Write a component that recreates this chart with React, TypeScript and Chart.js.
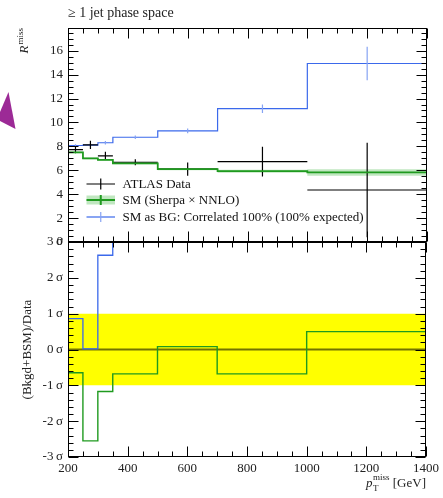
import React, { useEffect, useRef } from 'react';
import { Chart, registerables } from 'chart.js';

Chart.register(...registerables);

const FONT = "'Liberation Serif', 'DejaVu Serif', serif";
Chart.defaults.font.family = FONT;
Chart.defaults.color = '#222';

// ---- data ----
const binEdges = [200, 250, 300, 350, 500, 700, 1000, 1400];
const dataVals = [7.72, 8.12, 7.2, 6.67, 6.1, 6.72, 4.35];
const dataErrs = [0.3, 0.35, 0.35, 0.25, 0.55, 1.25, 3.95];
const smVals = [7.5, 7.0, 6.87, 6.58, 6.1, 5.92, 5.82];
const smErrs = [0.07, 0.07, 0.07, 0.07, 0.09, 0.12, 0.27];
const bgVals = [8.07, 8.1, 8.3, 8.76, 9.3, 11.15, 14.93];
const bgErrs = [0.1, 0.15, 0.15, 0.15, 0.2, 0.35, 1.4];
const smPull = [-0.65, -2.55, -1.17, -0.68, 0.08, -0.68, 0.5];
const bgPull = [0.86, 0.02, 2.63, 3.5, 3.5, 3.5, 3.5]; // bins above 350 GeV are off scale (> 3 sigma)

const xTickVals = [200, 400, 600, 800, 1000, 1200, 1400];
const topYTickVals = [0, 2, 4, 6, 8, 10, 12, 14, 16];
const pullTickVals = [-3, -2, -1, 0, 1, 2, 3];

const legendLabels = ['ATLAS Data', 'SM (Sherpa \u00d7 NNLO)', 'SM as BG: Correlated 100% (100% expected)'];
const titleText = '\u2265 1 jet phase space';

const BLUE = '#3b69eb';
const BLUE_LIGHT = '#86a3f3';
const GREEN = '#1f9a1f';
const GREEN_BAND = 'rgba(60,180,60,0.32)';

// ---- helpers building library data from arrays ----
const stepPoints = (vals: number[]) =>
  binEdges.map((e, i) => ({ x: e, y: vals[Math.min(i, vals.length - 1)] }));

const hBars = (vals: number[]) => {
  const pts: any[] = [];
  vals.forEach((v, i) => {
    pts.push({ x: binEdges[i], y: v }, { x: binEdges[i + 1], y: v }, { x: binEdges[i + 1], y: null });
  });
  return pts;
};

const vBars = (vals: number[], errs: number[]) => {
  const pts: any[] = [];
  vals.forEach((v, i) => {
    const mid = (binEdges[i] + binEdges[i + 1]) / 2;
    pts.push({ x: mid, y: Math.max(v - errs[i], 0) }, { x: mid, y: v + errs[i] }, { x: mid, y: null });
  });
  return pts;
};

const line = (data: any[], color: string, width: number, order: number, extra: any = {}) => ({
  data,
  borderColor: color,
  borderWidth: width,
  pointRadius: 0,
  fill: false,
  order,
  ...extra,
});

function drawFrameTicks(chart: any, xMinorStep: number, yMajorStep: number, yMinorStep: number) {
  const { ctx, chartArea: a, scales } = chart;
  const xs = scales.x;
  const ys = scales.y;
  const L = Math.round(a.left) + 0.5;
  const R = Math.round(a.right) - 0.5;
  const T = Math.round(a.top) + 0.5;
  const B = Math.round(a.bottom) - 0.5;
  ctx.save();
  ctx.strokeStyle = '#000';
  ctx.lineWidth = 1;
  ctx.beginPath();
  const nx = Math.round((xs.max - xs.min) / xMinorStep);
  for (let i = 0; i <= nx; i++) {
    const v = xs.min + i * xMinorStep;
    const major = Math.abs(v % 200) < 1e-6;
    const len = major ? 10 : 5;
    const px = Math.round(xs.getPixelForValue(v)) + 0.5;
    ctx.moveTo(px, T); ctx.lineTo(px, T + len);
    ctx.moveTo(px, B); ctx.lineTo(px, B - len);
  }
  const ny = Math.floor((ys.max - ys.min) / yMinorStep + 1e-6);
  for (let i = 0; i <= ny; i++) {
    const v = ys.min + i * yMinorStep;
    const r = (v - ys.min) / yMajorStep;
    const major = Math.abs(r - Math.round(r)) < 1e-6;
    const len = major ? 10 : 5;
    const py = Math.round(ys.getPixelForValue(v)) + 0.5;
    ctx.moveTo(L, py); ctx.lineTo(L + len, py);
    ctx.moveTo(R, py); ctx.lineTo(R - len, py);
  }
  ctx.stroke();
  ctx.strokeRect(L, T, R - L, B - T);
  ctx.restore();
}

const topDecor = {
  id: 'topDecor',
  afterDraw(chart: any) {
    const { ctx, chartArea: a } = chart;
    drawFrameTicks(chart, 50, 2, 0.5);
    ctx.save();
    // purple marker shape at the left edge
    ctx.fillStyle = '#9c2a96';
    ctx.beginPath();
    ctx.moveTo(8.5, 92);
    ctx.lineTo(15.5, 129);
    ctx.lineTo(0, 121);
    ctx.lineTo(0, 112);
    ctx.closePath();
    ctx.fill();
    // title
    ctx.fillStyle = '#222';
    ctx.font = `14px ${FONT}`;
    ctx.textAlign = 'left';
    ctx.textBaseline = 'middle';
    ctx.fillText(titleText, a.left, 13);
    // y title R^miss (rotated)
    ctx.save();
    ctx.translate(28, a.top);
    ctx.rotate(-Math.PI / 2);
    ctx.textBaseline = 'alphabetic';
    ctx.font = `italic 13px ${FONT}`;
    const wR = ctx.measureText('R').width;
    ctx.font = `9px ${FONT}`;
    const wM = ctx.measureText('miss').width;
    const start = -(wR + wM + 1);
    ctx.font = `italic 13px ${FONT}`;
    ctx.fillText('R', start, 0);
    ctx.font = `9px ${FONT}`;
    ctx.fillText('miss', start + wR + 1, -5);
    ctx.restore();
    // legend
    const lx0 = a.left + 18.5;
    const lx1 = a.left + 47;
    const lmid = (lx0 + lx1) / 2;
    const ys = [a.top + 156, a.top + 172, a.top + 189];
    ctx.strokeStyle = '#000';
    ctx.lineWidth = 1.2;
    ctx.beginPath();
    ctx.moveTo(lx0, ys[0]); ctx.lineTo(lx1, ys[0]);
    ctx.moveTo(lmid, ys[0] - 5.5); ctx.lineTo(lmid, ys[0] + 5.5);
    ctx.stroke();
    ctx.fillStyle = GREEN_BAND;
    ctx.fillRect(lx0, ys[1] - 4.5, lx1 - lx0, 9);
    ctx.strokeStyle = GREEN;
    ctx.lineWidth = 2;
    ctx.beginPath();
    ctx.moveTo(lx0, ys[1]); ctx.lineTo(lx1, ys[1]);
    ctx.moveTo(lmid, ys[1] - 5); ctx.lineTo(lmid, ys[1] + 5);
    ctx.stroke();
    ctx.strokeStyle = BLUE;
    ctx.lineWidth = 1.2;
    ctx.beginPath();
    ctx.moveTo(lx0, ys[2]); ctx.lineTo(lx1, ys[2]);
    ctx.stroke();
    ctx.strokeStyle = BLUE_LIGHT;
    ctx.beginPath();
    ctx.moveTo(lmid, ys[2] - 5); ctx.lineTo(lmid, ys[2] + 5);
    ctx.stroke();
    ctx.fillStyle = '#111';
    ctx.font = `13px ${FONT}`;
    ctx.textAlign = 'left';
    ctx.textBaseline = 'middle';
    legendLabels.forEach((t, i) => ctx.fillText(t, a.left + 54.5, ys[i] + 0.5));
    ctx.restore();
  },
};

const bottomDecor = {
  id: 'bottomDecor',
  afterDraw(chart: any) {
    const { ctx, chartArea: a } = chart;
    drawFrameTicks(chart, 50, 1, 0.2);
    ctx.save();
    ctx.fillStyle = '#222';
    ctx.save();
    ctx.translate(31, (a.top + a.bottom) / 2);
    ctx.rotate(-Math.PI / 2);
    ctx.font = `13px ${FONT}`;
    ctx.textAlign = 'center';
    ctx.textBaseline = 'alphabetic';
    ctx.fillText('(Bkgd+BSM)/Data', 0, 0);
    ctx.restore();
    const base = 487;
    ctx.textBaseline = 'alphabetic';
    ctx.textAlign = 'left';
    ctx.font = `13px ${FONT}`;
    const wUnit = ctx.measureText(' [GeV]').width;
    ctx.font = `9px ${FONT}`;
    const wMiss = ctx.measureText('miss').width;
    ctx.font = `italic 13px ${FONT}`;
    const wP = ctx.measureText('p').width;
    let x = a.right - wUnit - wMiss - wP - 0.5;
    ctx.fillText('p', x, base);
    x += wP + 0.5;
    ctx.font = `9px ${FONT}`;
    ctx.fillText('miss', x, base - 7.5);
    ctx.fillText('T', x, base + 4);
    x += wMiss;
    ctx.font = `13px ${FONT}`;
    ctx.fillText(' [GeV]', x, base);
    ctx.restore();
  },
};

export default function App() {
  const topRef = useRef<HTMLCanvasElement>(null);
  const botRef = useRef<HTMLCanvasElement>(null);

  useEffect(() => {
    const top = new Chart(topRef.current!, {
      type: 'line',
      data: {
        datasets: [
          line(stepPoints(smVals.map((v, i) => v + smErrs[i])), 'rgba(0,0,0,0)', 0, 6, { stepped: 'before' }),
          line(stepPoints(smVals.map((v, i) => v - smErrs[i])), 'rgba(0,0,0,0)', 0, 5, {
            stepped: 'before', fill: '-1', backgroundColor: GREEN_BAND,
          }),
          line(stepPoints(bgVals), BLUE, 1.2, 4, { stepped: 'before' }),
          line(vBars(bgVals, bgErrs), BLUE_LIGHT, 1.2, 3),
          line(hBars(dataVals), '#000', 1.2, 2),
          line(vBars(dataVals, dataErrs), '#000', 1.2, 2),
          line(stepPoints(smVals), GREEN, 1.8, 0, { stepped: 'before' }),
        ],
      },
      options: {
        animation: false,
        responsive: false,
        events: [],
        layout: { padding: { top: 28, bottom: 256, right: 16, left: 0 } },
        plugins: { legend: { display: false }, tooltip: { enabled: false } },
        scales: {
          x: { type: 'linear', min: 200, max: 1400, display: false },
          y: {
            type: 'linear',
            min: 0,
            max: 17.9,
            grid: { display: false, drawTicks: false },
            border: { display: false },
            afterFit: (s: any) => { s.width = 68; },
            afterBuildTicks: (s: any) => { s.ticks = topYTickVals.map((v) => ({ value: v })); },
            ticks: { padding: 5, color: '#222', font: { size: 13 }, callback: (v: any) => String(v) },
          },
        },
      },
      plugins: [topDecor],
    } as any);

    const bot = new Chart(botRef.current!, {
      type: 'line',
      data: {
        datasets: [
          line([{ x: 200, y: 1 }, { x: 1400, y: 1 }], 'rgba(0,0,0,0)', 0, 6),
          line([{ x: 200, y: -1 }, { x: 1400, y: -1 }], 'rgba(0,0,0,0)', 0, 5, { fill: '-1', backgroundColor: '#ffff00' }),
          line([{ x: 200, y: 0 }, { x: 1400, y: 0 }], 'rgba(0,0,0,0.55)', 2, 4),
          line(stepPoints(bgPull), BLUE, 1.3, 2, { stepped: 'before' }),
          line(stepPoints(smPull), GREEN, 1.4, 1, { stepped: 'before' }),
        ],
      },
      options: {
        animation: false,
        responsive: false,
        events: [],
        layout: { padding: { top: 242, bottom: 0, right: 16, left: 0 } },
        plugins: { legend: { display: false }, tooltip: { enabled: false } },
        scales: {
          x: {
            type: 'linear',
            min: 200,
            max: 1400,
            grid: { display: false, drawTicks: false },
            border: { display: false },
            afterFit: (s: any) => { s.height = 41; },
            afterBuildTicks: (s: any) => { s.ticks = xTickVals.map((v) => ({ value: v })); },
            ticks: { padding: 4, color: '#222', font: { size: 13 }, maxRotation: 0, callback: (v: any) => String(v) },
          },
          y: {
            type: 'linear',
            min: -3,
            max: 3,
            grid: { display: false, drawTicks: false },
            border: { display: false },
            afterFit: (s: any) => { s.width = 68; },
            afterBuildTicks: (s: any) => { s.ticks = pullTickVals.map((v) => ({ value: v })); },
            ticks: {
              padding: 5,
              color: '#222',
              font: { size: 13 },
              callback: (v: any) => `${v}\u2009\u03c3`,
            },
          },
        },
      },
      plugins: [bottomDecor],
    } as any);

    return () => {
      top.destroy();
      bot.destroy();
    };
  }, []);

  const cstyle: React.CSSProperties = { position: 'absolute', left: 0, top: 0, width: 443, height: 498 };
  return (
    <div style={{ position: 'fixed', left: 0, top: 0, width: 443, height: 498, background: '#fff' }}>
      <canvas ref={botRef} width={443} height={498} style={cstyle} />
      <canvas ref={topRef} width={443} height={498} style={cstyle} />
    </div>
  );
}
